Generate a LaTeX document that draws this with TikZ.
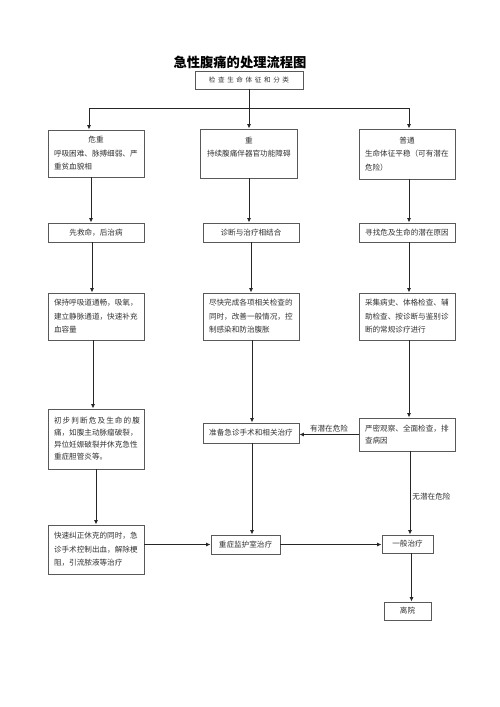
\documentclass[tikz,border=0pt]{standalone}
\usepackage{fontspec}
\setmainfont{Noto Sans CJK SC}
\usetikzlibrary{arrows.meta}
\begin{document}
\begin{tikzpicture}[x=1pt,y=-1pt,
  bx/.style={draw=black!65, line width=0.9pt, rectangle, inner sep=0pt,
    font=\fontsize{7.6}{13.5}\selectfont, text=black!80},
  ml/.style={align=left, text width=84pt},
  arr/.style={-{Latex[length=4.5pt,width=4pt]}, line width=0.9pt, draw=black!85},
  ln/.style={line width=0.9pt, draw=black!85},
  lab/.style={font=\fontsize{7.6}{9}\selectfont, text=black!80, inner sep=1pt}]

\useasboundingbox[fill=white] (0,0) rectangle (500,707);

% title
\node[font=\bfseries\fontsize{13.3}{15}\selectfont, inner sep=0pt] (title) at (240,62) {急性腹痛的处理流程图};

% top box
\node[bx, minimum width=108pt, minimum height=18pt, font=\fontsize{6.6}{8}\selectfont] (top) at (249,80)
  {检\hspace{2.6pt}查\hspace{2.6pt}生\hspace{2.6pt}命\hspace{2.6pt}体\hspace{2.6pt}征\hspace{2.6pt}和\hspace{2.6pt}分\hspace{2.6pt}类};

% row 1
\node[bx, ml, minimum width=96pt, minimum height=47pt] (b1) at (96,153.5)
  {\noindent\makebox[84pt]{危重}\\呼吸困难、脉搏细弱、严\\重贫血貌相};
\node[bx, ml, minimum width=97pt, minimum height=49pt] (b2) at (249,153.5)
  {\noindent\makebox[84pt]{重}\\持续腹痛伴器官功能障碍\\\mbox{}};
\node[bx, ml, minimum width=96pt, minimum height=50pt] (b3) at (407,154)
  {\noindent\makebox[84pt]{普通}\\生命体征平稳（可有潜在\\危险）};

% row 2
\node[bx, minimum width=96pt, minimum height=19pt] (c1) at (96,232.5) {先救命，后治病};
\node[bx, minimum width=96pt, minimum height=19pt] (c2) at (251,232.5) {诊断与治疗相结合};
\node[bx, minimum width=96pt, minimum height=19pt] (c3) at (407,232.5) {寻找危及生命的潜在原因};

% row 3
\node[bx, ml, minimum width=96pt, minimum height=47pt] (d1) at (96,316.5)
  {保持呼吸道通畅，吸氧，\\建立静脉通道，快速补充\\血容量};
\node[bx, ml, minimum width=96pt, minimum height=47pt] (d2) at (251,316.5)
  {尽快完成各项相关检查的\\同时，改善一般情况，控\\制感染和防治腹胀};
\node[bx, ml, minimum width=96pt, minimum height=47pt] (d3) at (407,316.5)
  {采集病史、体格检查、辅\\助检查、按诊断与鉴别诊\\断的常规诊疗进行};

% row 4
\node[bx, ml, minimum width=96pt, minimum height=60pt, font=\fontsize{7.6}{12}\selectfont] (e1) at (96,439)
  {\noindent\makebox[86pt][s]{初\hfill 步\hfill 判\hfill 断\hfill 危\hfill 及\hfill 生\hfill 命\hfill 的\hfill 腹}\\痛，如腹主动脉瘤破裂，\\异位妊娠破裂并休克急性\\重症胆管炎等。};
\node[bx, minimum width=96pt, minimum height=20pt] (e2) at (251,433) {准备急诊手术和相关治疗};
\node[bx, ml, minimum width=96pt, minimum height=33pt, font=\fontsize{7.6}{12.5}\selectfont] (e3) at (407,434.5)
  {严密观察、全面检查，排\\查病因};

% row 5
\node[bx, ml, minimum width=96pt, minimum height=49pt] (f1) at (96,549.5)
  {快速纠正休克的同时，急\\诊手术控制出血，解除梗\\阻，引流脓液等治疗};
\node[bx, minimum width=69pt, minimum height=19pt] (f2) at (245.5,544.5) {重症监护室治疗};
\node[bx, minimum width=51pt, minimum height=18pt] (f3) at (407.5,544) {一般治疗};
\node[bx, minimum width=47pt, minimum height=18pt] (g) at (407.5,611) {离院};

% connectors: top split
\coordinate (sp) at (249,108);
\draw[ln] (top.south) -- (sp);
\draw[arr] (sp) -| ([xshift=-7pt]b1.north);
\draw[arr] (sp) -- (b2.north);
\draw[arr] (sp) -| ([xshift=2pt]b3.north);

% left column
\draw[arr] ([xshift=-5pt]b1.south) -- ([xshift=-5pt]c1.north);
\draw[arr] ([xshift=-4pt]c1.south) -- ([xshift=-4pt]d1.north);
\draw[arr] ([xshift=-3pt]d1.south) -- ([xshift=-3pt]e1.north);
\draw[arr] (e1.south) -- (f1.north);

% middle column
\draw[arr] (b2.south) -- (b2.south |- c2.north);
\draw[arr] (c2.south) -- (d2.north);
\draw[arr] ([xshift=1pt]d2.south) -- ([xshift=1pt]e2.north);
\draw[arr] ([xshift=1pt]e2.south) -- ([xshift=1pt]e2.south |- f2.north);

% right column
\draw[arr] ([xshift=2pt]b3.south) -- ([xshift=2pt]c3.north);
\draw[arr] ([xshift=2pt]c3.south) -- ([xshift=2pt]d3.north);
\draw[arr] ([xshift=2pt]d3.south) -- ([xshift=2pt]e3.north);
\draw[arr] ([xshift=3pt]e3.south) -- ([xshift=3pt]e3.south |- f3.north)
  node[lab, pos=0.54, anchor=west, xshift=1pt] (lno) {无潜在危险};
\draw[arr] ([xshift=4pt]f3.south) -- ([xshift=4pt]g.north);

% horizontal
\draw[arr] (e3.west) -- (e3.west -| e2.east)
  node[lab, midway, anchor=south, yshift=0.5pt] (lyes) {有潜在危险};
\draw[arr] (f1.east |- f2.west) -- (f2.west);
\draw[arr] (f2.east) -- (f2.east -| f3.west);

\end{tikzpicture}
\end{document}
